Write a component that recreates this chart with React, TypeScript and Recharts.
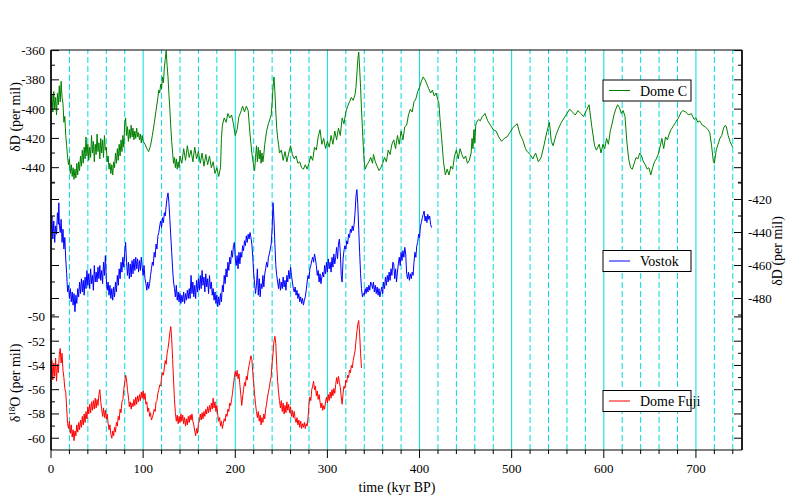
import React from "react";
import { LineChart, Line, XAxis, YAxis, ReferenceLine } from "recharts";

// [age (kyr BP), deltaD per mil]
const domeC: [number, number][] = [
  [0,-398],[1,-390],[2,-402],[3,-388],[4,-400],[5,-392],[6,-404],[7,-389],[8,-397],[9,-384],[10,-395],[11,-381],[12,-392],[13,-396],
  [14,-409],[15,-405],[16,-418],[17,-425],[18,-433],[19,-438],[20,-434],[21,-444],[22,-438],[23,-446],[24,-440],[25,-448],[26,-441],
  [27,-447],[28,-437],[29,-445],[30,-436],[31,-442],[32,-432],[33,-439],[34,-428],[35,-437],[36,-426],[37,-434],[38,-419],[39,-432],
  [40,-424],[41,-435],[42,-426],[43,-433],[44,-418],[45,-430],[46,-422],[47,-436],[48,-424],[49,-431],[50,-417],[51,-429],[52,-423],
  [53,-434],[54,-420],[55,-430],[56,-421],[57,-433],[58,-418],[59,-428],[60,-426],[61,-436],[62,-432],[63,-441],[64,-437],[65,-444],
  [66,-438],[67,-445],[68,-436],[69,-440],[70,-430],[71,-437],[72,-427],[73,-435],[74,-424],[75,-432],[76,-421],[77,-429],[78,-418],
  [79,-426],[80,-410],[81,-406],[82,-418],[83,-412],[84,-422],[85,-414],[86,-420],[87,-411],[88,-419],[89,-413],[90,-421],[91,-415],
  [92,-420],[93,-413],[94,-419],[95,-416],[96,-421],[97,-417],[98,-423],[99,-418],[100,-422],[102,-424],[104,-427],[106,-429],
  [108,-425],[110,-418],[112,-410],[114,-401],[116,-392],[117,-387],[118,-389],[119,-383],[120,-386],[121,-378],[122,-382],[123,-372],
  [124,-366],[125,-360],[126,-370],[127,-378],[128,-390],[129,-400],[130,-412],[131,-422],[132,-430],[133,-437],[134,-433],[135,-440],
  [136,-434],[137,-441],[138,-436],[139,-440],[140,-432],[142,-437],[144,-427],[146,-435],[148,-425],[150,-433],[152,-428],[154,-436],
  [156,-426],[158,-434],[160,-429],[162,-437],[164,-430],[166,-439],[168,-431],[170,-438],[172,-432],[174,-440],[176,-436],[178,-444],
  [180,-440],[182,-446],[184,-440],[185,-420],[186,-411],[188,-406],[190,-409],[192,-403],[194,-406],[196,-404],[198,-410],[200,-418],
  [202,-414],[204,-405],[206,-402],[208,-398],[210,-402],[212,-398],[214,-401],[216,-417],[218,-430],[220,-439],[221,-442],[222,-433],
  [223,-425],[224,-436],[225,-426],[226,-434],[227,-428],[228,-437],[229,-430],[230,-436],[231,-431],[232,-424],[234,-415],[236,-410],
  [238,-406],[239,-404],[240,-396],[241,-385],[242,-378],[243,-388],[244,-402],[245,-413],[246,-420],[247,-424],[248,-430],[250,-428],
  [252,-435],[254,-429],[256,-436],[258,-430],[260,-425],[262,-431],[264,-434],[266,-432],[268,-437],[270,-436],[272,-440],[274,-441],
  [276,-438],[278,-441],[280,-437],[282,-432],[284,-435],[286,-426],[288,-428],[290,-419],[292,-414],[294,-424],[296,-420],[298,-427],
  [300,-422],[302,-426],[304,-418],[306,-424],[308,-415],[310,-421],[312,-413],[314,-418],[316,-406],[318,-410],[320,-402],[322,-398],
  [324,-395],[326,-392],[328,-394],[330,-390],[331,-385],[332,-376],[333,-366],[334,-361],[335,-372],[336,-385],[337,-400],[338,-413],
  [339,-426],[340,-436],[341,-441],[343,-438],[345,-436],[347,-433],[349,-437],[350,-431],[352,-436],[354,-439],[356,-442],[358,-440],
  [360,-437],[362,-433],[364,-436],[366,-428],[368,-431],[370,-424],[372,-421],[374,-427],[376,-418],[378,-424],[380,-415],[382,-421],
  [384,-412],[386,-411],[388,-404],[390,-400],[392,-402],[394,-395],[396,-393],[398,-388],[400,-385],[402,-381],[404,-378],[406,-380],
  [408,-383],[410,-386],[412,-389],[414,-387],[416,-391],[418,-389],[420,-394],[421,-396],[422,-405],[424,-420],[426,-436],[428,-445],
  [430,-441],[432,-445],[434,-439],[436,-441],[438,-432],[440,-428],[442,-434],[444,-427],[446,-431],[448,-434],[450,-432],[452,-437],
  [454,-435],[456,-430],[457,-420],[458,-427],[459,-414],[460,-423],[461,-411],[462,-409],[464,-407],[466,-408],[468,-405],[470,-404],
  [471,-403],[474,-408],[477,-411],[480,-414],[483,-415],[486,-419],[489,-422],[492,-420],[495,-419],[498,-416],[501,-413],[504,-411],
  [506,-410],[509,-417],[512,-421],[515,-427],[517,-429],[520,-431],[523,-434],[526,-430],[529,-436],[532,-433],[535,-425],[538,-416],
  [541,-409],[543,-422],[545,-425],[548,-418],[551,-413],[554,-409],[557,-406],[560,-403],[563,-400],[566,-402],[569,-404],[572,-401],
  [575,-403],[578,-405],[581,-401],[584,-397],[587,-412],[590,-425],[592,-428],[595,-424],[597,-430],[599,-424],[601,-427],[603,-420],
  [605,-424],[607,-415],[609,-410],[611,-404],[613,-400],[615,-397],[617,-399],[619,-403],[621,-401],[623,-405],[625,-422],[627,-434],
  [629,-440],[631,-441],[633,-437],[635,-433],[637,-434],[639,-430],[641,-432],[643,-436],[645,-438],[647,-441],[649,-440],[651,-445],
  [653,-440],[655,-436],[657,-434],[659,-431],[661,-426],[663,-420],[665,-427],[667,-419],[669,-421],[671,-417],[673,-414],[675,-412],
  [678,-409],[681,-406],[684,-402],[686,-401],[689,-402],[692,-404],[695,-403],[698,-407],[700,-406],[702,-409],[704,-408],[707,-411],
  [710,-412],[713,-414],[715,-416],[717,-425],[719,-436],[720,-437],[722,-428],[724,-424],[726,-420],[728,-418],[730,-413],[732,-411],
  [733,-412],[735,-418],[737,-422],[739,-425],[740,-426],
];

// [age (kyr BP), deltaD per mil]
const vostok: [number, number][] = [
  [0,-438],[1,-430],[2,-444],[3,-433],[4,-446],[5,-436],[6,-441],[7,-428],[8,-435],[8.5,-422],[9,-434],[10,-440],[11,-432],[12,-446],
  [13,-438],[14,-450],[15,-443],[16,-456],[17,-465],[18,-476],[19,-472],[20,-480],[21,-474],[22,-482],[23,-476],[24,-484],[25,-477],
  [26,-488],[27,-478],[28,-483],[29,-474],[30,-479],[31,-470],[32,-477],[33,-468],[34,-476],[35,-469],[36,-478],[37,-467],[38,-474],
  [39,-463],[40,-472],[41,-465],[42,-474],[43,-462],[44,-471],[45,-466],[46,-475],[47,-460],[48,-470],[49,-464],[50,-470],[51,-461],
  [52,-468],[53,-460],[54,-469],[55,-463],[56,-471],[57,-458],[58,-466],[59,-454],[60,-468],[61,-475],[62,-470],[63,-478],[64,-472],
  [65,-480],[66,-474],[67,-481],[68,-473],[69,-479],[70,-470],[71,-476],[72,-466],[73,-472],[74,-462],[75,-468],[76,-458],[77,-464],
  [78,-455],[79,-461],[80,-452],[81,-446],[82,-458],[83,-466],[84,-458],[85,-468],[86,-459],[87,-467],[88,-457],[89,-465],[90,-456],
  [91,-463],[92,-455],[93,-462],[94,-456],[95,-464],[96,-457],[97,-463],[98,-455],[99,-461],[100,-466],[101,-460],[102,-468],[103,-471],
  [104,-475],[105,-470],[106,-474],[107,-471],[108,-466],[109,-462],[110,-458],[111,-460],[112,-452],[113,-455],[114,-447],[115,-450],
  [116,-442],[117,-440],[118,-436],[119,-433],[120,-437],[121,-431],[122,-434],[123,-428],[124,-430],[125,-424],[126,-419],[127,-416],
  [128,-422],[129,-432],[130,-442],[131,-452],[132,-462],[133,-470],[134,-474],[135,-479],[136,-472],[137,-481],[138,-476],[139,-482],
  [140,-477],[141,-483],[142,-478],[143,-482],[144,-476],[145,-483],[146,-477],[147,-481],[148,-475],[149,-480],[150,-474],[151,-480],
  [152,-466],[153,-477],[154,-470],[155,-479],[156,-472],[157,-480],[158,-469],[159,-476],[160,-468],[161,-475],[162,-466],[163,-474],
  [164,-463],[165,-472],[166,-467],[167,-476],[168,-465],[169,-473],[170,-468],[171,-477],[172,-466],[173,-474],[174,-470],[175,-478],
  [176,-474],[177,-481],[178,-476],[179,-483],[180,-478],[181,-485],[182,-479],[183,-484],[184,-477],[185,-482],[186,-472],[187,-476],
  [188,-466],[189,-471],[190,-462],[191,-467],[192,-458],[193,-463],[194,-455],[195,-459],[196,-451],[197,-455],[198,-448],[199,-446],
  [200,-455],[201,-460],[202,-454],[203,-462],[204,-452],[205,-459],[206,-452],[207,-455],[208,-448],[209,-451],[210,-445],[211,-448],
  [212,-442],[213,-446],[214,-441],[215,-444],[216,-440],[217,-443],[218,-447],[219,-455],[220,-465],[221,-471],[222,-477],[223,-472],
  [224,-462],[225,-478],[226,-468],[227,-479],[228,-471],[229,-474],[230,-466],[231,-473],[232,-465],[233,-462],[234,-458],[235,-461],
  [236,-455],[237,-453],[238,-450],[239,-447],[240,-438],[241,-422],[242,-432],[243,-447],[244,-460],[245,-466],[246,-470],[247,-474],
  [248,-468],[249,-475],[250,-470],[251,-474],[252,-467],[253,-473],[254,-469],[255,-475],[256,-466],[257,-470],[258,-463],[259,-468],
  [260,-461],[261,-466],[262,-470],[263,-474],[264,-476],[265,-473],[266,-478],[267,-475],[268,-480],[269,-477],[270,-482],[271,-479],
  [272,-483],[273,-480],[274,-484],[275,-481],[276,-479],[277,-475],[278,-470],[279,-466],[280,-468],[281,-462],[282,-460],[283,-457],
  [284,-455],[285,-458],[286,-453],[287,-456],[288,-460],[289,-466],[290,-463],[291,-470],[292,-465],[293,-471],[294,-467],[295,-464],
  [296,-467],[297,-460],[298,-465],[299,-458],[300,-464],[301,-456],[302,-462],[303,-458],[304,-464],[305,-455],[306,-461],[307,-453],
  [308,-459],[309,-455],[310,-449],[311,-456],[312,-447],[313,-444],[314,-452],[315,-466],[316,-470],[317,-456],[318,-451],[319,-448],
  [320,-450],[321,-445],[322,-447],[323,-441],[324,-443],[325,-438],[326,-440],[327,-436],[328,-439],[329,-435],[330,-428],[331,-418],
  [332,-414],[333,-423],[334,-438],[335,-452],[336,-465],[337,-474],[338,-479],[339,-477],[340,-478],[341,-474],[342,-477],[343,-473],
  [344,-476],[345,-472],[346,-475],[347,-470],[348,-471],[349,-474],[350,-470],[351,-476],[352,-472],[353,-477],[354,-473],[355,-478],
  [356,-474],[357,-479],[358,-476],[359,-473],[360,-477],[361,-470],[362,-474],[363,-467],[364,-472],[365,-466],[366,-470],[367,-464],
  [368,-469],[369,-462],[370,-466],[371,-458],[372,-459],[373,-468],[374,-462],[375,-470],[376,-464],[377,-459],[378,-455],[379,-460],
  [380,-452],[381,-457],[382,-451],[383,-455],[384,-449],[385,-453],[386,-465],[387,-468],[388,-464],[389,-469],[390,-465],[391,-468],
  [392,-464],[393,-466],[394,-458],[395,-452],[396,-455],[397,-448],[398,-446],[399,-441],[400,-443],[401,-436],[402,-434],[403,-431],
  [404,-429],[405,-427],[406,-433],[407,-430],[408,-434],[409,-429],[410,-432],[411,-430],[412,-435],[413,-437],
];

// [age (kyr BP), delta18O per mil]
const domeFuji: [number, number][] = [
  [0,-54.8],[1,-53.6],[2,-55.2],[3,-53.8],[4,-54.9],[5,-53.4],[6,-55.3],[7,-53.9],[8,-54.6],[9,-53.1],[10,-52.6],[11,-53.8],[12,-53.0],
  [13,-54.4],[14,-55.0],[15,-55.9],[16,-56.2],[17,-57.5],[18,-58.8],[19,-59.2],[20,-58.6],[21,-59.6],[22,-58.9],[23,-59.9],[24,-59.3],
  [25,-60.2],[26,-59.4],[27,-59.8],[28,-58.9],[29,-59.5],[30,-58.7],[31,-59.3],[32,-58.5],[33,-59.1],[34,-58.2],[35,-58.9],[36,-58.0],
  [37,-58.7],[38,-57.8],[39,-58.4],[40,-57.4],[41,-58.0],[42,-57.2],[43,-57.9],[44,-57.0],[45,-57.7],[46,-56.9],[47,-57.6],[48,-56.7],
  [49,-57.5],[50,-56.8],[51,-57.3],[52,-56.4],[53,-56.0],[54,-57.0],[55,-57.6],[56,-58.2],[57,-57.5],[58,-58.3],[59,-57.7],[60,-58.4],
  [61,-58.0],[62,-58.8],[63,-59.3],[64,-58.9],[65,-59.7],[66,-60.0],[67,-59.4],[68,-59.8],[69,-59.1],[70,-59.5],[71,-58.7],[72,-59.0],
  [73,-58.2],[74,-58.5],[75,-57.6],[76,-57.9],[77,-57.0],[78,-56.8],[79,-56.0],[80,-55.4],[81,-54.8],[82,-55.2],[83,-56.0],[84,-56.6],
  [85,-57.4],[86,-57.0],[87,-57.6],[88,-57.1],[89,-57.4],[90,-56.8],[91,-57.3],[92,-56.6],[93,-57.2],[94,-56.5],[95,-57.0],[96,-56.4],
  [97,-56.9],[98,-56.2],[99,-56.7],[100,-56.1],[101,-56.8],[102,-56.3],[103,-57.2],[104,-57.0],[105,-57.8],[106,-57.5],[107,-58.2],
  [108,-57.9],[109,-58.5],[110,-58.3],[111,-58.0],[112,-57.6],[113,-57.8],[114,-57.0],[115,-56.9],[116,-56.3],[117,-56.0],[118,-55.6],
  [119,-55.7],[120,-55.0],[121,-54.6],[122,-54.8],[123,-54.2],[124,-53.6],[125,-53.9],[126,-53.0],[127,-52.6],[128,-52.0],[129,-51.3],
  [130,-50.8],[131,-51.8],[132,-53.5],[133,-55.2],[134,-56.8],[135,-57.9],[136,-58.6],[137,-58.1],[138,-58.8],[139,-58.2],[140,-58.7],
  [141,-58.0],[142,-58.6],[143,-58.1],[144,-58.8],[145,-58.3],[146,-59.0],[147,-58.4],[148,-58.9],[149,-58.2],[150,-58.7],[151,-58.1],
  [152,-58.5],[153,-58.0],[154,-58.6],[155,-58.9],[156,-59.4],[157,-59.8],[158,-59.2],[159,-59.6],[160,-58.8],[161,-58.6],[162,-58.0],
  [163,-58.5],[164,-57.9],[165,-58.4],[166,-57.8],[167,-58.2],[168,-57.6],[169,-58.0],[170,-57.4],[171,-57.9],[172,-57.3],[173,-57.8],
  [174,-57.1],[175,-57.6],[176,-56.7],[177,-57.5],[178,-57.0],[179,-57.8],[180,-57.3],[181,-58.1],[182,-58.6],[183,-58.3],[184,-59.0],
  [185,-58.6],[186,-59.2],[187,-58.8],[188,-58.4],[189,-58.6],[190,-58.0],[191,-58.2],[192,-57.6],[193,-57.8],[194,-57.1],[195,-57.3],
  [196,-56.8],[197,-56.3],[198,-55.6],[199,-55.0],[200,-54.5],[201,-54.9],[202,-54.4],[203,-55.1],[204,-54.7],[205,-55.6],[206,-56.4],
  [207,-57.3],[208,-56.6],[209,-56.0],[210,-55.4],[211,-55.7],[212,-54.9],[213,-55.2],[214,-54.4],[215,-54.0],[216,-53.6],[217,-53.2],
  [218,-53.5],[219,-54.6],[220,-55.5],[221,-56.4],[222,-57.2],[223,-57.8],[224,-58.3],[225,-57.8],[226,-58.6],[227,-58.1],[228,-58.9],
  [229,-58.3],[230,-58.7],[231,-58.0],[232,-58.4],[233,-57.6],[234,-57.2],[235,-56.6],[236,-56.2],[237,-55.8],[238,-55.3],[239,-54.9],
  [240,-53.8],[241,-53.0],[242,-52.0],[243,-51.6],[244,-52.2],[245,-54.0],[246,-55.3],[247,-56.2],[248,-56.9],[249,-57.5],[250,-56.9],
  [251,-57.8],[252,-57.1],[253,-58.0],[254,-57.3],[255,-57.9],[256,-57.0],[257,-57.7],[258,-57.2],[259,-57.9],[260,-57.4],[261,-58.2],
  [262,-57.7],[263,-58.3],[264,-57.8],[265,-58.4],[266,-58.7],[267,-58.3],[268,-58.9],[269,-58.5],[270,-59.1],[271,-58.6],[272,-59.2],
  [273,-58.8],[274,-59.1],[275,-58.7],[276,-59.2],[277,-58.8],[278,-59.0],[279,-58.3],[280,-57.2],[281,-56.6],[282,-56.9],[283,-56.0],
  [284,-55.7],[285,-55.3],[286,-56.0],[287,-55.7],[288,-56.5],[289,-56.1],[290,-56.8],[291,-56.4],[292,-57.0],[293,-57.5],[294,-57.1],
  [295,-57.7],[296,-57.3],[297,-57.6],[298,-57.0],[299,-56.6],[300,-57.1],[301,-56.4],[302,-56.9],[303,-56.2],[304,-56.7],[305,-56.0],
  [306,-56.5],[307,-55.9],[308,-56.3],[309,-55.6],[310,-55.0],[311,-55.5],[312,-54.9],[313,-55.4],[314,-55.8],[315,-56.6],[316,-57.2],
  [317,-56.3],[318,-55.7],[319,-55.9],[320,-55.2],[321,-55.4],[322,-54.8],[323,-55.0],[324,-54.4],[325,-54.6],[326,-54.0],[327,-54.2],
  [328,-53.6],[329,-53.2],[330,-52.8],[331,-52.0],[332,-51.2],[333,-50.6],[334,-50.3],[335,-51.4],[336,-53.0],[337,-54.2],
];

const xTicks = [0,20,40,60,80,100,120,140,160,180,200,220,240,260,280,300,320,340,360,380,400,420,440,460,480,500,520,540,560,580,600,620,640,660,680,700,720,740];
const domeCTicks = [-450,-440,-430,-420,-410,-400,-390,-380,-370,-360];
const vostokTicks = [-490,-480,-470,-460,-450,-440,-430,-420,-410];
const fujiTicks = [-60,-59,-58,-57,-56,-55,-54,-53,-52,-51,-50];

const FONT = "Liberation Serif, Times New Roman, serif";
const GRID = "#00dcdc";
const TINY = 0.001; // axes of (almost) zero size so all of them sit on the frame

const rows = (pts: [number, number][]) => pts.map(([age, d]) => ({ age, d }));

type Side = "left" | "right" | "top" | "bottom";

function makeTick(side: Side, majorStep: number, showLabel: boolean) {
  return (props: any) => {
    const { x, y, payload } = props;
    const v = payload.value as number;
    const major = Math.abs(Math.round(v)) % majorStep === 0;
    const len = major ? 8 : 4;
    const txtStyle = { fontFamily: FONT, fontSize: 13 };
    if (side === "left") {
      return (
        <g>
          <line x1={x} y1={y} x2={x + len} y2={y} stroke="#000" />
          {showLabel && major && (
            <text x={x - 6} y={y + 4.5} textAnchor="end" fill="#000" style={txtStyle}>{v}</text>
          )}
        </g>
      );
    }
    if (side === "right") {
      return (
        <g>
          <line x1={x} y1={y} x2={x - len} y2={y} stroke="#000" />
          {showLabel && major && (
            <text x={x + 6} y={y + 4.5} textAnchor="start" fill="#000" style={txtStyle}>{v}</text>
          )}
        </g>
      );
    }
    if (side === "top") {
      return <line x1={x} y1={y} x2={x} y2={y - len} stroke="#000" />;
    }
    return (
      <g>
        <line x1={x} y1={y} x2={x} y2={y + len} stroke="#000" />
        {showLabel && major && (
          <text x={x} y={y + 23} textAnchor="middle" fill="#000" style={txtStyle}>{v}</text>
        )}
      </g>
    );
  };
}

const yCommon = {
  width: TINY,
  tickSize: 0,
  tickMargin: 0,
  tickLine: false,
  interval: 0 as const,
  allowDataOverflow: true,
  type: "number" as const,
  axisLine: { stroke: "#000" },
};

const xCommon = {
  height: TINY,
  tickSize: 0,
  tickMargin: 0,
  tickLine: false,
  interval: 0 as const,
  allowDataOverflow: true,
  type: "number" as const,
  axisLine: { stroke: "#000" },
};

const legends = [
  { name: "Dome C", color: "#008000", y: 80 },
  { name: "Vostok", color: "#0000ff", y: 250.5 },
  { name: "Dome Fuji", color: "#ff0000", y: 390.5 },
];

export default function App() {
  return (
    <div style={{ position: "absolute", left: 0, top: 0, width: 792, height: 500, background: "#fff" }}>
      <LineChart width={792} height={500} margin={{ top: 50, right: 50, bottom: 50, left: 51 }}>
        <XAxis xAxisId="b" dataKey="age" domain={[0, 750]} ticks={xTicks}
          tick={makeTick("bottom", 100, true)} {...xCommon} />
        <XAxis xAxisId="t" orientation="top" domain={[0, 750]} ticks={xTicks}
          tick={makeTick("top", 100, false)} {...xCommon} />
        <YAxis yAxisId="domeC" orientation="left" domain={[-632.9, -359.6]} ticks={domeCTicks}
          tick={makeTick("left", 20, true)} {...yCommon} />
        <YAxis yAxisId="vostokL" orientation="left" domain={[-571.8, -329.4]} ticks={vostokTicks}
          tick={makeTick("left", 20, false)} {...yCommon} />
        <YAxis yAxisId="fuji" orientation="left" domain={[-60.97, -28.0]} ticks={fujiTicks}
          tick={makeTick("left", 2, true)} {...yCommon} />
        <YAxis yAxisId="vostok" orientation="right" domain={[-571.8, -329.4]} ticks={vostokTicks}
          tick={makeTick("right", 20, true)} {...yCommon} />
        <YAxis yAxisId="domeCR" orientation="right" domain={[-632.9, -359.6]} ticks={domeCTicks}
          tick={makeTick("right", 20, false)} {...yCommon} />
        <YAxis yAxisId="fujiR" orientation="right" domain={[-60.97, -28.0]} ticks={fujiTicks}
          tick={makeTick("right", 2, false)} {...yCommon} />

        {xTicks.filter((v) => v > 0).map((v) => (
          <ReferenceLine
            key={v}
            x={v}
            xAxisId="b"
            yAxisId="domeC"
            stroke={GRID}
            strokeWidth={1}
            strokeDasharray={v % 100 === 0 ? undefined : "6 3"}
          />
        ))}

        <Line data={rows(domeC)} dataKey="d" xAxisId="b" yAxisId="domeC" stroke="#008000" strokeWidth={1}
          dot={false} type="linear" isAnimationActive={false} />
        <Line data={rows(vostok)} dataKey="d" xAxisId="b" yAxisId="vostok" stroke="#0000ff" strokeWidth={1}
          dot={false} type="linear" isAnimationActive={false} />
        <Line data={rows(domeFuji)} dataKey="d" xAxisId="b" yAxisId="fuji" stroke="#ff0000" strokeWidth={1}
          dot={false} type="linear" isAnimationActive={false} />
      </LineChart>

      <svg width={792} height={500} style={{ position: "absolute", left: 0, top: 0, pointerEvents: "none" }}>
        <g fill="#000" style={{ fontFamily: FONT, fontSize: 14 }}>
          <text transform="translate(20,117) rotate(-90)" textAnchor="middle">δD (per mil)</text>
          <text transform="translate(20,383) rotate(-90)" textAnchor="middle">
            δ<tspan dy={-5} style={{ fontSize: 9 }}>18</tspan><tspan dy={5}>O (per mil)</tspan>
          </text>
          <text transform="translate(782,251) rotate(-90)" textAnchor="middle">δD (per mil)</text>
          <text x={397} y={492} textAnchor="middle">time (kyr BP)</text>
        </g>
        {legends.map((l) => (
          <g key={l.name}>
            <rect x={603} y={l.y} width={88} height={21} fill="#fff" stroke="#000" strokeWidth={1} />
            <line x1={609} x2={630} y1={l.y + 10.5} y2={l.y + 10.5} stroke={l.color} strokeWidth={1} />
            <text x={640} y={l.y + 15.5} fill="#000" style={{ fontFamily: FONT, fontSize: 14 }}>{l.name}</text>
          </g>
        ))}
      </svg>
    </div>
  );
}
